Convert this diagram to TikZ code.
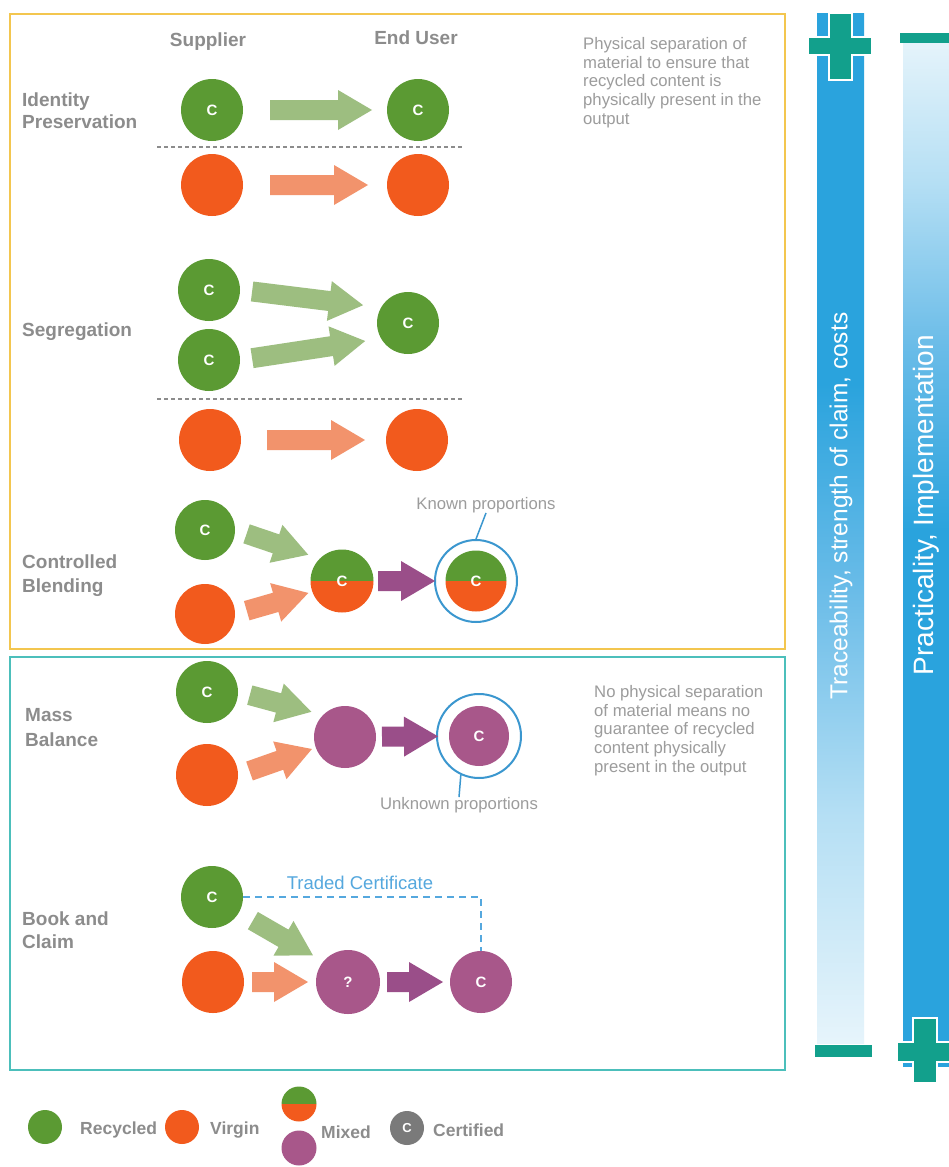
\documentclass[tikz,border=0pt]{standalone}
\usepackage{fontspec}
\setmainfont{Liberation Sans}
\usetikzlibrary{calc}
\definecolor{cRec}{HTML}{5B9A33}
\definecolor{cVir}{HTML}{F25A1D}
\definecolor{cMix}{HTML}{A8578A}
\definecolor{aRec}{HTML}{9DBE80}
\definecolor{aVir}{HTML}{F2936C}
\definecolor{aMix}{HTML}{9A4E89}
\definecolor{cLbl}{HTML}{8C8C8C}
\definecolor{cDesc}{HTML}{9C9C9C}
\definecolor{cYbox}{HTML}{F3C64F}
\definecolor{cTbox}{HTML}{4CBFBB}
\definecolor{cRing}{HTML}{3B97CF}
\definecolor{cCert}{HTML}{55A8DE}
\definecolor{barD}{HTML}{2AA3DD}
\definecolor{barM}{HTML}{6ABCE8}
\definecolor{barN}{HTML}{B5DFF4}
\definecolor{barL}{HTML}{E6F4FB}
\definecolor{cPM}{HTML}{12A08C}
\definecolor{cGray}{HTML}{7A7A7A}
\pgfdeclareverticalshading{barone}{100bp}{color(0bp)=(barL); color(25bp)=(barL); color(36bp)=(barN); color(47bp)=(barM); color(57bp)=(barD); color(75bp)=(barD); color(100bp)=(barD)}
\pgfdeclareverticalshading{bartwo}{100bp}{color(0bp)=(barD); color(25bp)=(barD); color(51bp)=(barD); color(60bp)=(barM); color(68bp)=(barN); color(75bp)=(barL); color(100bp)=(barL)}
\newcommand\fatarrow[5]{%
  \coordinate (fa) at ($(#2)!#4!(#3)$);
  \coordinate (fb) at ($(#3)!#5!(#2)$);
  \coordinate (fn) at ($(fb)!34pt!(fa)$);
  \fill[#1] ($(fa)!10pt!90:(fb)$) -- ($(fn)!10pt!90:(fb)$) -- ($(fn)!20pt!90:(fb)$) -- (fb)
     -- ($(fn)!20pt!-90:(fb)$) -- ($(fn)!10pt!-90:(fb)$) -- ($(fa)!10pt!-90:(fb)$) -- cycle;}
\tikzset{
  dot/.style={circle, inner sep=0pt, minimum size=62pt, text=white, font=\fontsize{15}{15}\selectfont\bfseries},
  recdot/.style={dot, fill=cRec},
  virdot/.style={dot, fill=cVir},
  mixdot/.style={dot, fill=cMix},
  halfdot/.style={dot, path picture={
      \fill[cRec] ([xshift=-60pt,yshift=60pt]path picture bounding box.center) rectangle ([xshift=60pt]path picture bounding box.center);
      \fill[cVir] ([xshift=-60pt,yshift=-60pt]path picture bounding box.center) rectangle ([xshift=60pt]path picture bounding box.center);}},
  ringdot/.style={circle, draw=cRing, line width=2pt, minimum size=82pt, inner sep=0pt},
  small/.style={minimum size=34pt, font=\fontsize{13}{13}\selectfont\bfseries},
  lbltext/.style={text=cLbl, font=\fontsize{19}{23}\selectfont\bfseries, align=left, inner sep=0pt},
  desctext/.style={text=cDesc, font=\fontsize{16.7}{18.8}\selectfont, align=left, inner sep=0pt},
  legtext/.style={text=cLbl, font=\fontsize{17.5}{17.5}\selectfont\bfseries, inner sep=0pt, anchor=west},
  bartext/.style={text=white, rotate=90, inner sep=0pt},
  sepline/.style={draw=cLbl, line width=1.5pt, dash pattern=on 4pt off 3pt},
}
\begin{document}
\begin{tikzpicture}[x=1pt,y=-1pt]
\path[use as bounding box, fill=white] (0,0) rectangle (949,1167);
\clip (0,0) rectangle (949,1167);
% frames
\draw[cYbox, line width=2.5pt] (10,14) rectangle (785,649);
\draw[cTbox, line width=2.5pt] (10,657) rectangle (785,1070);
% headers
\node[lbltext] (sup) at (208,42) {Supplier};
\node[lbltext] (eu) at (416,38) {End User};
% row labels
\node[lbltext, anchor=west, font=\fontsize{19}{22}\selectfont\bfseries] (l1) at (22,111) {Identity\\Preservation};
\node[lbltext, anchor=west] (l2) at (22,332) {Segregation};
\node[lbltext, anchor=west, font=\fontsize{19}{24}\selectfont\bfseries] (l3) at (22,576) {Controlled\\Blending};
\node[lbltext, anchor=west, font=\fontsize{19}{25}\selectfont\bfseries] (l4) at (25,728) {Mass\\Balance};
\node[lbltext, anchor=west, font=\fontsize{19}{23}\selectfont\bfseries] (l5) at (22,930) {Book and\\Claim};
% descriptions
\node[desctext, anchor=north west] (d1) at (583,37) {Physical separation of\\material to ensure that\\recycled content is\\physically present in the\\output};
\node[desctext, anchor=north west] (d2) at (594,685) {No physical separation\\of material means no\\guarantee of recycled\\content physically\\present in the output};
% identity preservation
\node[recdot] (ig1) at (212,110) {C};
\node[recdot] (ig2) at (418,110) {C};
\node[virdot] (io1) at (212,185) {};
\node[virdot] (io2) at (418,185) {};
\draw[sepline] (157,147) -- (463,147);
\fatarrow{aRec}{ig1}{ig2}{58pt}{46pt}
\fatarrow{aVir}{io1}{io2}{58pt}{50pt}
% segregation
\node[recdot] (sg1) at (209,290) {C};
\node[recdot] (sg2) at (209,360) {C};
\node[recdot] (sg3) at (408,323) {C};
\node[virdot] (so1) at (210,440) {};
\node[virdot] (so2) at (417,440) {};
\draw[sepline] (157,399) -- (463,399);
\fatarrow{aRec}{sg1.east}{sg3.150}{12pt}{18pt}
\fatarrow{aRec}{sg2.east}{sg3.210}{12pt}{16pt}
\fatarrow{aVir}{so1}{so2}{57pt}{52pt}
% controlled blending
\node[recdot, minimum size=60pt] (cb1) at (205,530) {C};
\node[virdot, minimum size=60pt] (cb2) at (205,614) {};
\node[halfdot, minimum size=63pt] (cbm) at (342,581) {C};
\node[halfdot, minimum size=61pt] (cbe) at (476,581) {C};
\node[ringdot] (cbr) at (476,581) {};
\fatarrow{aRec}{cb1.east}{cbm.north west}{12pt}{12pt}
\fatarrow{aVir}{cb2.east}{cbm.200}{12pt}{4pt}
\fatarrow{aMix}{cbm}{cbr}{36pt}{41pt}
\node[desctext] (kp) at (486,505) {Known proportions};
\draw[cRing, line width=1.5pt] (kp.south) -- (cbr.north);
% mass balance
\node[recdot] (mb1) at (207,692) {C};
\node[virdot] (mb2) at (207,775) {};
\node[mixdot] (mbm) at (345,737) {};
\node[mixdot, minimum size=60pt] (mbe) at (479,736) {C};
\node[ringdot, minimum size=84pt] (mbr) at (479,736) {};
\fatarrow{aRec}{mb1.east}{mbm.north west}{12pt}{12pt}
\fatarrow{aVir}{mb2.east}{mbm.200}{12pt}{4pt}
\fatarrow{aMix}{mbm}{mbr}{37pt}{41pt}
\node[desctext] (up) at (459,805) {Unknown proportions};
\draw[cRing, line width=1.5pt] (mbr.245) -- (up.north);
% book and claim
\node[recdot] (bc1) at (212,897) {C};
\node[virdot] (bc2) at (213,982) {};
\node[mixdot, minimum size=64pt] (bcq) at (348,982) {?};
\node[mixdot] (bce) at (481,982) {C};
\draw[cCert, line width=2pt, dash pattern=on 7pt off 5pt] (bc1.east) -| (bce.north);
\node[text=cCert, font=\fontsize{18.5}{18.5}\selectfont, inner sep=0pt] (tc) at (360,883) {Traded Certificate};
\fatarrow{aRec}{bc1.-30}{bcq.140}{16pt}{12pt}
\fatarrow{aVir}{bc2}{bcq}{39pt}{40pt}
\fatarrow{aMix}{bcq}{bce}{39pt}{38pt}
% legend
\node[recdot, small] (lg1) at (45,1127) {};
\node[legtext] (lt1) at (80,1130) {Recycled};
\node[virdot, small] (lg2) at (182,1127) {};
\node[legtext] (lt2) at (210,1130) {Virgin};
\node[halfdot, small, minimum size=35pt] (lg3) at (299,1104) {};
\node[mixdot, small, minimum size=35pt] (lg4) at (299,1148) {};
\node[legtext] (lt3) at (321,1132) {Mixed};
\node[dot, small, fill=cGray] (lg5) at (407,1128) {C};
\node[legtext] (lt4) at (433,1130) {Certified};
% right bars
\shade[shading=barone] (817,13) rectangle (864,1043);
\shade[shading=bartwo] (903,38) rectangle (955,1066);
\node[bartext, font=\fontsize{24.5}{24.5}\selectfont] (b1) at (841,506) {Traceability, strength of claim, costs};
\node[bartext, font=\fontsize{28}{28}\selectfont] (b2) at (926,505) {Practicality, Implementation};
\filldraw[fill=cPM, draw=white, line width=2pt] (829,13) -- (852,13) -- (852,37) -- (872,37) -- (872,55) -- (852,55) -- (852,80) -- (829,80) -- (829,55) -- (808,55) -- (808,37) -- (829,37) -- cycle;
\fill[cPM] (815,1045) rectangle (872,1057);
\fill[cPM] (900,33) rectangle (955,43);
\filldraw[fill=cPM, draw=white, line width=2pt] (913,1018) -- (937,1018) -- (937,1042) -- (956,1042) -- (956,1062) -- (937,1062) -- (937,1083) -- (913,1083) -- (913,1062) -- (897,1062) -- (897,1042) -- (913,1042) -- cycle;
\end{tikzpicture}
\end{document}
